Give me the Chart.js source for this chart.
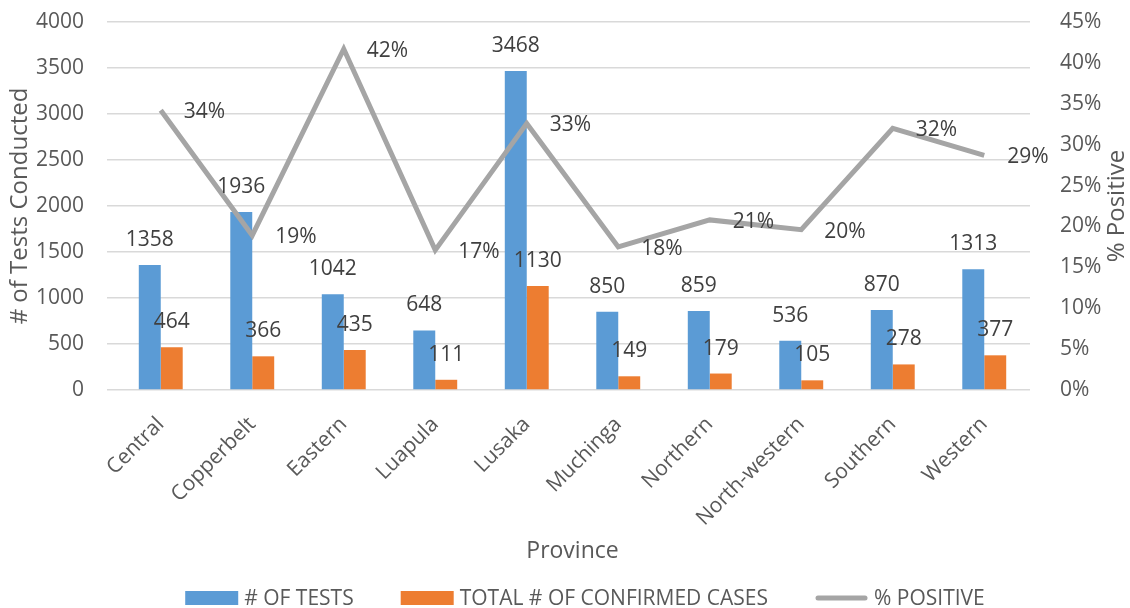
<!DOCTYPE html>
<html lang="en">
  <head>
    <meta charset="UTF-8" />
    <script src="https://cdn.jsdelivr.net/npm/chart.js"></script>
    <title>Tests by province</title>
    <style>
      html, body { margin: 0; padding: 0; background: #ffffff; }
      .graph { width: 1130px; height: 608px; }
    </style>
  </head>
  <body>
    <div class="graph">
      <canvas id="canvas_grafico"></canvas>
    </div>
    <script>
      // dados
      var provincias = ["Central", "Copperbelt", "Eastern", "Luapula", "Lusaka", "Muchinga", "Northern", "North-western", "Southern", "Western"];
      var testes = [1358, 1936, 1042, 648, 3468, 850, 859, 536, 870, 1313];
      var confirmados = [464, 366, 435, 111, 1130, 149, 179, 105, 278, 377];
      var positivos = [34.2, 18.9, 41.7, 17.1, 32.6, 17.5, 20.8, 19.6, 32.0, 28.7];
      var ticksEsquerda = [0, 500, 1000, 1500, 2000, 2500, 3000, 3500, 4000];
      var ticksDireita = [0, 5, 10, 15, 20, 25, 30, 35, 40, 45];

      var fonte = "'Open Sans', sans-serif";
      var corTexto = "#595959";

      // rotulos de dados, titulo do eixo direito e legenda
      var rotulos = {
        id: "rotulos",
        afterDatasetsDraw: function (chart) {
          var ctx = chart.ctx;
          ctx.save();
          ctx.font = "21px " + fonte;
          ctx.fillStyle = "#404040";
          ctx.textBaseline = "middle";
          chart.data.datasets.forEach(function (ds, i) {
            var meta = chart.getDatasetMeta(i);
            meta.data.forEach(function (el, j) {
              if (ds.type === "line") {
                ctx.textAlign = "left";
                ctx.fillText(Math.round(ds.data[j]) + "%", el.x + 23, el.y + 2);
              } else {
                ctx.textAlign = "center";
                ctx.fillText(ds.data[j], el.x, el.y - 25);
              }
            });
          });
          ctx.restore();
        },
        afterDraw: function (chart) {
          var ctx = chart.ctx;
          var area = chart.chartArea;
          ctx.save();
          ctx.font = "24px " + fonte;
          ctx.fillStyle = corTexto;
          ctx.textAlign = "center";
          ctx.textBaseline = "middle";
          ctx.translate(1117, (area.top + area.bottom) / 2);
          ctx.rotate(-Math.PI / 2);
          ctx.fillText("% Positive", 0, 0);
          ctx.restore();

          // legenda embaixo
          ctx.save();
          ctx.font = "21px " + fonte;
          ctx.textBaseline = "middle";
          ctx.textAlign = "left";
          var y = 598;
          var caixa = 53, espaco = 6, entre = 47;
          var total = 0;
          chart.data.datasets.forEach(function (ds, i) {
            total += caixa + espaco + ctx.measureText(ds.label).width;
            if (i > 0) total += entre;
          });
          var x = 585 - total / 2;
          chart.data.datasets.forEach(function (ds) {
            if (ds.type === "line") {
              ctx.strokeStyle = ds.borderColor;
              ctx.lineWidth = 5;
              ctx.lineCap = "round";
              ctx.beginPath();
              ctx.moveTo(x + 3, y);
              ctx.lineTo(x + caixa - 3, y);
              ctx.stroke();
            } else {
              ctx.fillStyle = ds.backgroundColor;
              ctx.fillRect(x, y - 7, caixa, 14);
            }
            x += caixa + espaco;
            ctx.fillStyle = corTexto;
            ctx.fillText(ds.label, x, y + 1);
            x += ctx.measureText(ds.label).width + entre;
          });
          ctx.restore();
        },
      };

      var dados = {
        labels: provincias,
        datasets: [
          {
            type: "bar",
            label: "# OF TESTS",
            data: testes,
            backgroundColor: "#5B9BD5",
            yAxisID: "y",
            order: 2,
          },
          {
            type: "bar",
            label: "TOTAL # OF CONFIRMED CASES",
            data: confirmados,
            backgroundColor: "#ED7D31",
            yAxisID: "y",
            order: 2,
          },
          {
            type: "line",
            label: "% POSITIVE",
            data: positivos,
            borderColor: "#A5A5A5",
            backgroundColor: "#A5A5A5",
            borderWidth: 5,
            pointRadius: 0,
            tension: 0,
            yAxisID: "y2",
            order: 1,
          },
        ],
      };

      var config = {
        data: dados,
        plugins: [rotulos],
        options: {
          responsive: true,
          maintainAspectRatio: false,
          animation: false,
          layout: { padding: { top: 22, right: 0, left: 0, bottom: 30 } },
          datasets: {
            bar: { categoryPercentage: 0.48, barPercentage: 1.0 },
          },
          plugins: {
            tooltip: { enabled: false },
            legend: { display: false },
          },
          scales: {
            x: {
              afterFit: function (axis) {
                axis.height = 188;
              },
              grid: { display: false },
              border: { display: false },
              ticks: {
                color: corTexto,
                font: { family: fonte, size: 21 },
                minRotation: 45,
                maxRotation: 45,
                padding: 14,
              },
              title: {
                display: true,
                text: "Province",
                color: corTexto,
                font: { family: fonte, size: 23 },
                padding: { top: 4, bottom: 13 },
              },
            },
            y: {
              position: "left",
              min: 0,
              max: 4000,
              afterFit: function (axis) {
                axis.width = 115;
                axis.paddingTop = 14;
                axis.paddingBottom = 14;
              },
              afterBuildTicks: function (axis) {
                axis.ticks = ticksEsquerda.map(function (v) { return { value: v }; });
              },
              grid: { color: "#D9D9D9", lineWidth: 1.5 },
              border: { display: false },
              ticks: {
                color: corTexto,
                font: { family: fonte, size: 21 },
                padding: 23,
                callback: function (v) { return String(v); },
              },
              title: {
                display: true,
                text: "# of Tests Conducted",
                color: corTexto,
                font: { family: fonte, size: 24 },
                padding: { top: 6, bottom: 0 },
              },
            },
            y2: {
              position: "right",
              min: 0,
              max: 45,
              afterFit: function (axis) {
                axis.width = 100;
                axis.paddingTop = 14;
                axis.paddingBottom = 14;
              },
              afterBuildTicks: function (axis) {
                axis.ticks = ticksDireita.map(function (v) { return { value: v }; });
              },
              grid: { display: false },
              border: { display: false },
              ticks: {
                color: corTexto,
                font: { family: fonte, size: 21 },
                padding: 22,
                callback: function (v) { return v + "%"; },
              },
            },
          },
        },
      };

      var myChart = new Chart(document.getElementById("canvas_grafico"), config);
    </script>
  </body>
</html>
